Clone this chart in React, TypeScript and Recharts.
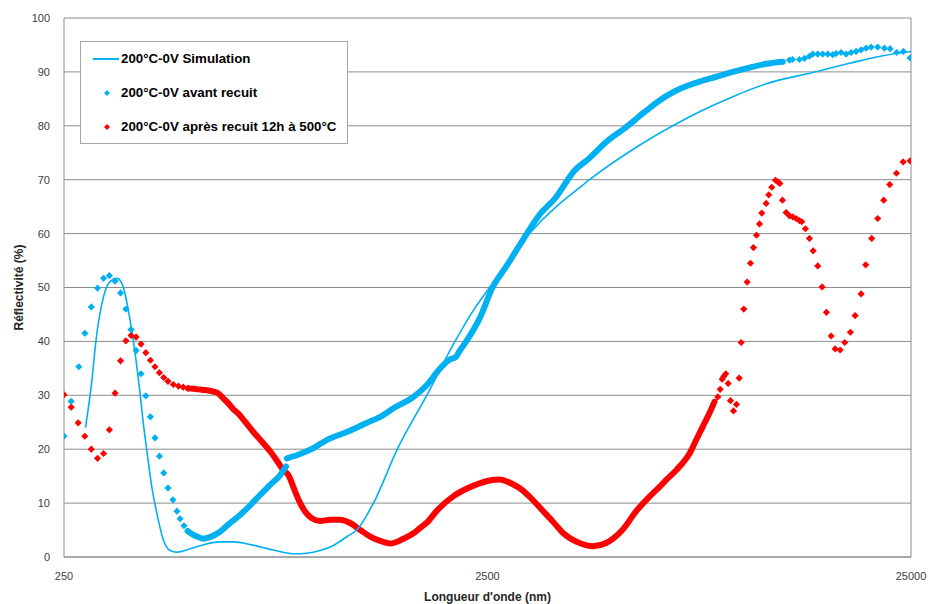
import React from 'react';
import { ComposedChart, Line, Scatter, XAxis, YAxis, CartesianGrid, ReferenceLine, Label } from 'recharts';

// Wavelength (nm), reflectivity (%)
const simulation: number[][] = [
  [281, 24], [291, 32.8], [297, 39.7], [310, 48.3], [321, 51.1], [334, 51.7], [345, 50.1], [358, 44.0],
  [368, 37.8], [378, 30.4], [384, 25.4], [392, 19.9], [403, 13.0], [414, 8.2], [429, 3.2], [445, 1.2],
  [461, 0.9], [487, 1.3], [524, 2.1], [584, 2.8], [627, 2.8], [699, 2.2], [779, 1.3], [868, 0.6],
  [937, 0.7], [1006, 1.2], [1079, 2.1], [1165, 3.8], [1228, 5.0], [1345, 10], [1531, 20], [1797, 30],
  [2095, 40], [2317, 45.8], [2527, 50], [3141, 60], [4354, 70], [5509, 75.6], [6846, 80], [7917, 82.6],
  [9489, 85.4], [11376, 87.8], [14660, 89.9], [17897, 91.6], [21449, 93.0], [25000, 93.8],
];

const avantSparseStart: number[][] = [
  [250, 22.4], [260, 28.9], [271, 35.3], [280, 41.5], [290, 46.4], [300, 49.9], [310, 51.7], [320, 52.2],
  [330, 51.2], [340, 49.0], [350, 46.0], [360, 42.2], [370, 38.3], [380, 34.0], [390, 29.9], [400, 26.0],
  [410, 22.1], [420, 18.7], [430, 15.6], [440, 12.8], [452, 10.6], [462, 8.5], [470, 7.1], [480, 5.8],
  [490, 4.8],
];

const avantDenseA: number[][] = [
  [490, 4.8], [505, 4.1], [519, 3.7], [533, 3.4], [553, 3.7], [584, 4.7], [617, 6.3], [651, 7.8],
  [688, 9.6], [726, 11.5], [767, 13.4], [810, 15.2], [836, 16.8],
];

const avantDenseB: number[][] = [
  [840, 18.3], [902, 19.1], [970, 20.2], [1043, 21.7], [1164, 23.2], [1298, 24.9], [1395, 26.0],
  [1499, 27.6], [1672, 29.7], [1798, 31.9], [1933, 35.0], [2042, 36.7], [2097, 37.0], [2155, 38.4],
  [2227, 40], [2403, 44.5], [2569, 50], [2768, 53.9], [3029, 58.8], [3096, 60], [3317, 63.5],
  [3632, 66.8], [3869, 70], [3975, 71.3], [4353, 74], [4766, 77], [5323, 79.8], [5713, 81.8],
  [6032, 83.3], [6605, 85.5], [7228, 87.1], [7916, 88.2], [8667, 89.1], [9486, 90.0], [10388, 90.8],
  [11374, 91.5], [12448, 91.9],
];

const avantSparseEnd: number[][] = [
  [12912, 92.2], [13124, 92.3], [13632, 92.3], [14007, 92.5], [14393, 92.9], [14653, 93.3],
  [15058, 93.3], [15471, 93.3], [15899, 93.3], [16335, 93.2], [16640, 93.4], [17098, 93.6],
  [17569, 93.3], [18053, 93.6], [18550, 93.8], [19061, 94.1], [19586, 94.4], [20126, 94.6],
  [20862, 94.6], [21635, 94.4], [22316, 94.3], [23131, 93.6], [23989, 93.8], [24878, 92.6],
];

const apresSparseStart: number[][] = [
  [250, 30.1], [260, 27.8], [270, 24.9], [280, 22.4], [290, 20.0], [300, 18.3], [310, 19.2], [320, 23.6],
  [330, 30.4], [340, 36.4], [350, 40.1], [360, 41.1], [370, 40.8], [380, 39.5], [390, 37.9], [400, 36.5],
  [410, 35.3], [420, 34.2], [430, 33.3], [440, 32.6], [453, 32.0], [466, 31.7], [478, 31.5], [491, 31.3],
];

const apresDense: number[][] = [
  [491, 31.3], [505, 31.2], [519, 31.1], [533, 31.0], [548, 30.9], [563, 30.7], [578, 30.4], [595, 29.4],
  [611, 28.5], [628, 27.4], [645, 26.6], [663, 25.5], [700, 23.2], [739, 21.1], [774, 19.2], [803, 17.4],
  [824, 16.1], [847, 15.2], [863, 13.7], [879, 12.1], [903, 10.0], [928, 8.4], [962, 7.2], [1006, 6.7],
  [1063, 6.9], [1122, 6.9], [1185, 6.3], [1252, 5.0], [1321, 3.8], [1395, 3.0], [1473, 2.5], [1583, 3.4],
  [1672, 4.4], [1734, 5.4], [1798, 6.4], [1899, 8.6], [2078, 11.3], [2236, 12.7], [2403, 13.7],
  [2527, 14.2], [2669, 14.4], [2869, 13.5], [2975, 12.8], [3141, 11.2], [3440, 7.9], [3565, 6.6],
  [3765, 4.5], [4123, 2.6], [4432, 2.0], [4766, 2.6], [5216, 5.1], [5611, 8.5], [6032, 11.2],
  [6369, 13.0], [6605, 14.3], [6974, 16.1], [7498, 19.2], [7775, 21.7], [8059, 24.2], [8358, 26.7],
  [8588, 28.8],
];

const apresSparseEnd: number[][] = [
  [8744, 29.7], [8858, 31.1], [8955, 33.0], [9034, 33.5], [9132, 34.0], [9252, 32.2], [9368, 29.0],
  [9523, 27.1], [9680, 28.3], [9823, 33.2], [9930, 39.8], [10072, 46.0], [10258, 51.0], [10444, 54.5],
  [10616, 57.4], [10791, 59.7], [10968, 61.8], [11106, 63.8], [11374, 65.6], [11536, 67.2],
  [11726, 68.6], [11965, 69.9], [12116, 69.6], [12248, 69.3], [12429, 66.2], [12680, 63.9],
  [12911, 63.3], [13145, 63.1], [13389, 62.8], [13632, 62.4], [13803, 62.2], [14084, 60.9],
  [14393, 59.1], [14686, 56.8], [15058, 54.0], [15421, 50.1], [15786, 45.4], [16194, 41.0],
  [16551, 38.6], [17006, 38.4], [17437, 39.8], [17984, 41.7], [18451, 44.8], [19061, 48.8],
  [19545, 54.2], [20193, 59.1], [20862, 62.8], [21554, 66.2], [22267, 69.1], [23094, 71.2],
  [23956, 73.3], [24878, 73.5],
];

const xTicks = [250, 2500, 25000];
const yTicks = [0, 10, 20, 30, 40, 50, 60, 70, 80, 90, 100];

const legendLabels = [
  '200°C-0V Simulation',
  '200°C-0V avant recuit',
  '200°C-0V après recuit 12h à 500°C',
];

const BLUE = '#00B0F0';
const RED = '#FF0000';
const GRID = '#8C8C8C';
const FONT = '"Liberation Sans", Arial, sans-serif';

const toPts = (a: number[][]) => a.map(([x, y]) => ({ x, y }));

const diamond = (color: string, r: number) => (props: any) => {
  const { cx, cy } = props;
  if (cx == null || cy == null || isNaN(cx) || isNaN(cy)) return <g />;
  return (
    <path d={`M${cx},${cy - r}L${cx + r},${cy}L${cx},${cy + r}L${cx - r},${cy}Z`} fill={color} />
  );
};

const blueMarkers = toPts([...avantSparseStart, ...avantSparseEnd]);
const redMarkers = toPts([...apresSparseStart, ...apresSparseEnd]);

const XTitle = (props: any) => {
  const vb = props.viewBox || {};
  return (
    <text x={vb.x + vb.width / 2} y={601} textAnchor="middle" fontFamily={FONT} fontWeight="bold" fontSize={12} fill="#262626">
      Longueur d'onde (nm)
    </text>
  );
};

const YTitle = (props: any) => {
  const vb = props.viewBox || {};
  const cy = vb.y + vb.height / 2;
  return (
    <text x={23} y={cy} transform={`rotate(-90, 23, ${cy})`} textAnchor="middle" fontFamily={FONT} fontWeight="bold" fontSize={12} fill="#262626">
      Réflectivité (%)
    </text>
  );
};

const LegendBox = () => (
  <div
    style={{
      position: 'absolute', left: 80, top: 41, width: 266, height: 101,
      border: '1px solid #A6A6A6', background: '#fff', fontFamily: FONT,
      fontWeight: 'bold', fontSize: 13.3, color: '#000',
    }}
  >
    {legendLabels.map((lab, i) => (
      <div key={lab} style={{ position: 'absolute', left: 0, top: 8 + i * 34, height: 18, width: 266 }}>
        <svg width={40} height={18} style={{ position: 'absolute', left: 0, top: 0 }}>
          {i === 0 ? (
            <line x1={12} x2={38} y1={9} y2={9} stroke={BLUE} strokeWidth={2} />
          ) : (
            <path d="M26,6L29,9L26,12L23,9Z" fill={i === 1 ? BLUE : RED} />
          )}
        </svg>
        <span style={{ position: 'absolute', left: 40, top: 1, whiteSpace: 'nowrap', lineHeight: '16px' }}>{lab}</span>
      </div>
    ))}
  </div>
);

export default function App() {
  return (
    <div style={{ position: 'absolute', left: 0, top: 0, width: 928, height: 604, background: '#fff', fontFamily: FONT }}>
      <ComposedChart width={928} height={604} margin={{ top: 18, right: 17, bottom: 0, left: 0 }}>
        <CartesianGrid vertical={false} stroke={GRID} strokeWidth={1} />
        <XAxis
          dataKey="x"
          type="number"
          scale="log"
          domain={[250, 25000]}
          ticks={xTicks}
          allowDataOverflow
          height={47}
          axisLine={{ stroke: GRID }}
          tickLine={false}
          tickSize={6}
          tickMargin={9}
          tick={{ fontSize: 11, fill: '#404040', fontFamily: FONT }}
        >
          <Label content={<XTitle />} />
        </XAxis>
        <YAxis
          dataKey="y"
          type="number"
          domain={[0, 100]}
          ticks={yTicks}
          width={64}
          axisLine={{ stroke: GRID }}
          tickLine={false}
          tickSize={6}
          tickMargin={8}
          tick={{ fontSize: 11, fill: '#404040', fontFamily: FONT }}
        >
          <Label content={<YTitle />} />
        </YAxis>
        <ReferenceLine x={25000} stroke={GRID} strokeWidth={1} />

        <Line data={toPts(apresDense)} dataKey="y" type="monotone" stroke={RED} strokeWidth={6} strokeLinecap="round" dot={false} activeDot={false} isAnimationActive={false} />
        <Scatter data={redMarkers} dataKey="y" fill={RED} shape={diamond(RED, 3.6)} isAnimationActive={false} />

        <Line data={toPts(avantDenseA)} dataKey="y" type="monotone" stroke={BLUE} strokeWidth={6} strokeLinecap="round" dot={false} activeDot={false} isAnimationActive={false} />
        <Line data={toPts(avantDenseB)} dataKey="y" type="monotone" stroke={BLUE} strokeWidth={6} strokeLinecap="round" dot={false} activeDot={false} isAnimationActive={false} />
        <Scatter data={blueMarkers} dataKey="y" fill={BLUE} shape={diamond(BLUE, 3.6)} isAnimationActive={false} />

        <Line data={toPts(simulation)} dataKey="y" type="monotone" stroke={BLUE} strokeWidth={1.6} dot={false} activeDot={false} isAnimationActive={false} />
      </ComposedChart>
      <LegendBox />
    </div>
  );
}
